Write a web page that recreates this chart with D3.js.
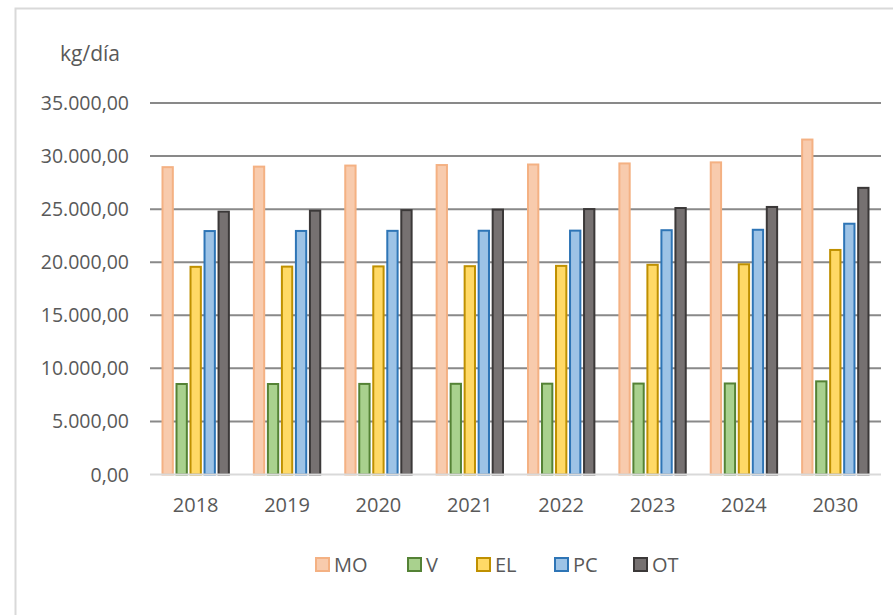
<!DOCTYPE html>
<html>
<head>
<meta charset="utf-8">
<script src="https://cdn.jsdelivr.net/npm/d3@7"></script>
<style>
  body { margin: 0; background: #fff; }
  svg text { font-family: "Open Sans", "Liberation Sans", sans-serif; fill: #595959; }
</style>
</head>
<body>
<script>
// chart size
var w = 893, h = 615;

// data
var years = ["2018", "2019", "2020", "2021", "2022", "2023", "2024", "2030"];
var seriesNames = ["MO", "V", "EL", "PC", "OT"];
var moValues = [29050, 29100, 29200, 29250, 29300, 29400, 29500, 31650];
var vValues = [8620, 8620, 8630, 8640, 8650, 8660, 8670, 8870];
var elValues = [19660, 19680, 19700, 19720, 19750, 19850, 19900, 21250];
var pcValues = [23030, 23040, 23050, 23060, 23070, 23110, 23150, 23720];
var otValues = [24860, 24950, 25000, 25050, 25100, 25200, 25300, 27100];
var yTicks = [0, 5000, 10000, 15000, 20000, 25000, 30000, 35000];

var allValues = [moValues, vValues, elValues, pcValues, otValues];
var fills = ["#F8CBAD", "#A9D18E", "#FFD966", "#9DC3E6", "#767171"];
var strokes = ["#F4B183", "#548235", "#BF9000", "#2E75B6", "#3B3838"];

var svg = d3.select("body")
    .append("svg")
    .attr("width", w)
    .attr("height", h)
    .attr("class", "container");

// outer chart frame
svg.append("rect")
    .attr("x", 15.5)
    .attr("y", 8.5)
    .attr("width", 900)
    .attr("height", 620)
    .attr("fill", "#fff")
    .attr("stroke", "#D9D9D9")
    .attr("stroke-width", 2);

// scales
var x = d3.scaleBand()
    .domain(years)
    .range([150, 881]);

var y = d3.scaleLinear()
    .domain([0, 35000])
    .range([474.5, 103]);

var x1 = d3.scaleBand()
    .domain(seriesNames)
    .range([11.5, x.bandwidth() - 11.5])
    .paddingInner(0.12);

var fmt = function(v){
    return d3.format(",.2f")(v).replace(/,/g, "#").replace(".", ",").replace(/#/g, ".");
};

// grid lines
svg.append("g")
    .selectAll("line")
    .data(yTicks.filter(function(d){ return d > 0; }))
    .enter()
    .append("line")
    .attr("x1", 150)
    .attr("x2", 881)
    .attr("y1", function(d){ return y(d); })
    .attr("y2", function(d){ return y(d); })
    .attr("stroke", "#898989")
    .attr("stroke-width", 2);

// y labels
svg.append("g")
    .selectAll("text")
    .data(yTicks)
    .enter()
    .append("text")
    .attr("x", 129)
    .attr("y", function(d){ return y(d) + 7; })
    .attr("text-anchor", "end")
    .style("font-size", "19.5px")
    .text(fmt);

// bars
var groups = svg.append("g")
    .selectAll("g")
    .data(years)
    .enter()
    .append("g")
    .attr("transform", function(d){ return "translate(" + x(d) + ",0)"; });

groups.selectAll("rect")
    .data(function(d, i){
        return seriesNames.map(function(s, j){
            return { name: s, idx: j, value: allValues[j][i] };
        });
    })
    .enter()
    .append("rect")
    .attr("x", function(d){ return x1(d.name) + 1; })
    .attr("width", x1.bandwidth() - 2)
    .attr("y", function(d){ return y(d.value) + 1; })
    .attr("height", function(d){ return y(0) - y(d.value) - 1; })
    .attr("fill", function(d){ return fills[d.idx]; })
    .attr("stroke", function(d){ return strokes[d.idx]; })
    .attr("stroke-width", 2);

// x axis line
svg.append("line")
    .attr("x1", 150)
    .attr("x2", 881)
    .attr("y1", y(0))
    .attr("y2", y(0))
    .attr("stroke", "#D9D9D9")
    .attr("stroke-width", 2);

// x labels
svg.append("g")
    .selectAll("text")
    .data(years)
    .enter()
    .append("text")
    .attr("x", function(d){ return x(d) + x.bandwidth() / 2; })
    .attr("y", 512)
    .attr("text-anchor", "middle")
    .style("font-size", "20px")
    .text(function(d){ return d; });

// unit title
svg.append("text")
    .attr("x", 60)
    .attr("y", 61)
    .style("font-size", "21px")
    .text("kg/día");

// legend
var legendX = [315, 407, 476, 554, 633];
var legend = svg.append("g")
    .selectAll("g")
    .data(seriesNames)
    .enter()
    .append("g")
    .attr("transform", function(d, i){ return "translate(" + legendX[i] + ",557)"; });

legend.append("rect")
    .attr("x", 1)
    .attr("y", 1)
    .attr("width", 13)
    .attr("height", 13)
    .attr("fill", function(d, i){ return fills[i]; })
    .attr("stroke", function(d, i){ return strokes[i]; })
    .attr("stroke-width", 2);

legend.append("text")
    .attr("x", 19)
    .attr("y", 15)
    .style("font-size", "20px")
    .text(function(d){ return d; });
</script>
</body>
</html>
